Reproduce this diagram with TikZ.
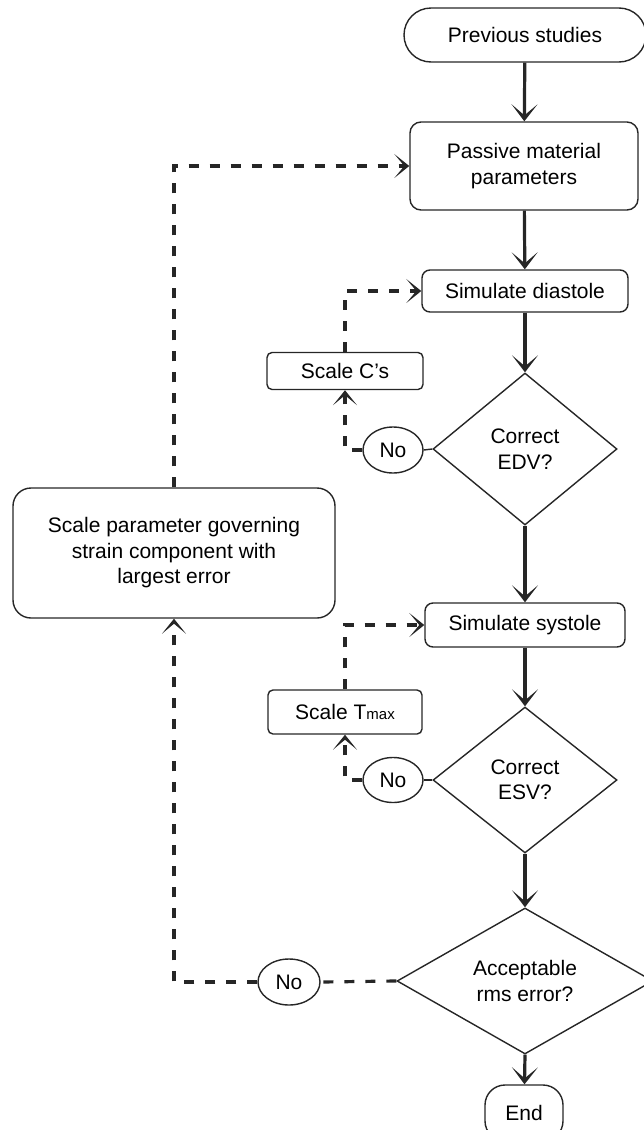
\documentclass[tikz,border=0pt]{standalone}
\usepackage{fontspec}
\setmainfont{Liberation Sans}
\usetikzlibrary{shapes.geometric,arrows.meta}
\begin{document}
\begin{tikzpicture}[x=1pt,y=-1pt,
  font=\fontsize{21}{25.5}\selectfont,
  box/.style={draw=black!85, line width=1.4pt, rounded corners=8pt, align=center, inner sep=0pt},
  dia/.style={draw=black!85, line width=1.4pt, diamond, align=center, inner sep=0pt},
  noel/.style={draw=black!85, line width=1.4pt, ellipse, inner sep=0pt, minimum width=60pt, minimum height=46pt},
  flow/.style={draw=black!85, line width=3.2pt, -{Stealth[length=17pt,width=26pt,inset=11pt]}},
  thinln/.style={draw=black!85, line width=1.4pt},
  dashln/.style={draw=black!85, line width=3.2pt, dash pattern=on 10pt off 11pt},
  dashar/.style={dashln, -{Stealth[length=15pt,width=24pt,inset=10pt]}}]
\useasboundingbox (0,0) rectangle (644,1130);
% main column
\node[box, rounded corners=27pt, minimum width=242pt, minimum height=54pt] (prev) at (525,35) {Previous studies};
\node[box, rounded corners=11pt, minimum width=228pt, minimum height=88pt] (pass) at (524,166) {Passive material\\parameters};
\node[box, minimum width=206pt, minimum height=42pt] (dias) at (525,291) {Simulate diastole};
\node[dia, minimum width=184pt, minimum height=152pt] (edv) at (525,449) {Correct\\EDV?};
\node[box, minimum width=200pt, minimum height=44pt] (sys) at (525,625) {Simulate systole};
\node[dia, minimum width=184pt, minimum height=146pt] (esv) at (525,780) {Correct\\ESV?};
\node[dia, minimum width=256pt, minimum height=146pt] (rms) at (525,981) {Acceptable\\rms error?};
\node[box, rounded corners=20pt, minimum width=78pt, minimum height=56pt] (endn) at (524,1113) {End};
% side boxes
\node[box, rounded corners=5pt, minimum width=156pt, minimum height=37pt] (scc) at (345,371) {Scale C’s};
\node[box, rounded corners=5pt, minimum width=154pt, minimum height=44pt] (sct) at (345,712) {Scale T{\fontsize{15}{15}\selectfont max}};
\node[box, rounded corners=18pt, minimum width=322pt, minimum height=130pt] (big) at (174,553) {Scale parameter governing\\strain component with\\largest error};
% No ellipses
\node[noel] (no1) at (393,450) {No};
\node[noel, minimum height=45pt] (no2) at (393,780) {No};
\node[noel, minimum width=62pt] (no3) at (289,982) {No};
% solid flow
\draw[flow] (prev) -- (pass);
\draw[flow] (pass) -- (dias);
\draw[flow] (dias) -- (edv.north);
\draw[flow] (edv.south) -- (sys);
\draw[flow] (sys) -- (esv.north);
\draw[flow] (esv.south) -- (rms.north);
\draw[flow] (rms.south) -- (endn);
% No connectors
\draw[thinln] (edv.west) -- (no1.east);
\draw[thinln] (esv.west) -- (no2.east);
\draw[dashln] (rms.west) -- (no3.east);
% dashed loops
\draw[dashar] (no1.west) -| (scc.south);
\draw[dashar] (scc.north) |- (dias.west);
\draw[dashar] (no2.west) -| (sct.south);
\draw[dashar] (sct.north) |- (sys.west);
\draw[dashar] (no3.west) -| (big.south);
\draw[dashar] (big.north) |- (pass.west);
\end{tikzpicture}
\end{document}
